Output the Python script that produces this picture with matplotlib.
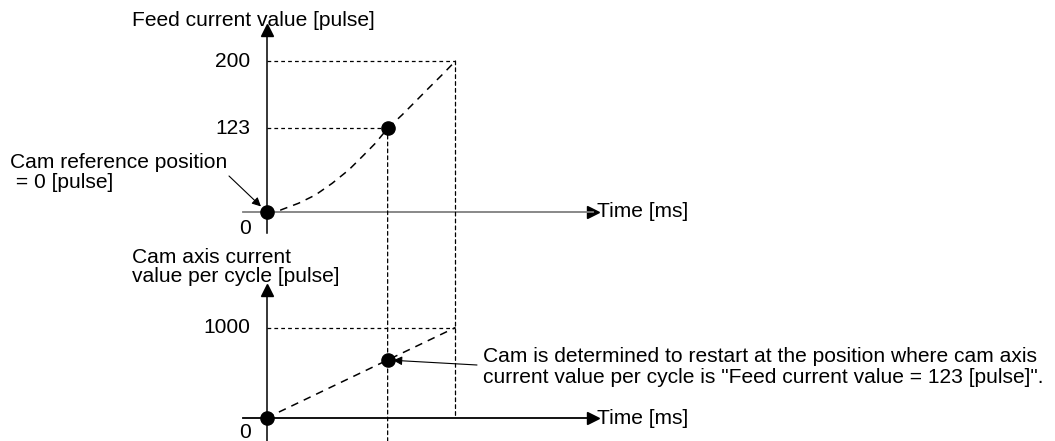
import numpy as np
import matplotlib
matplotlib.use("Agg")
import matplotlib.pyplot as plt
from matplotlib.patches import ConnectionPatch

plt.rcParams['font.family'] = ['Liberation Sans', 'DejaVu Sans']

# ---------------- data ----------------
# Feed current value curve (time as fraction of the cam cycle, value in pulses)
feed_time = [0.0, 0.074, 0.17, 0.259, 0.347, 0.435, 0.506, 0.576, 0.641,
             0.717, 0.787, 0.857, 0.928, 1.0]
feed_value = [0, 2.4, 12.5, 24.7, 41.8, 61.6, 81.2, 101, 123,
              138.3, 153.5, 168.8, 184, 200]
feed_ticks = [0, 123, 200]
restart_time = 0.641
restart_feed = 123
feed_max = 200

cam_time = [0.0, 1.0]
cam_value = [0, 1000]
cam_restart = 641
cam_max = 1000

# picture height fraction of each labelled feed level (diagram not to scale)
feed_levels = [0, 123, 200]
feed_level_h = [0.0, 0.553, 1.0]

W, H = 1055, 441
fig = plt.figure(figsize=(W / 100, H / 100), dpi=100)


def px_axes(x0, x1, ytop, ybot):
    return fig.add_axes([x0 / W, 1 - ybot / H, (x1 - x0) / W, (ybot - ytop) / H])


def fwd(v):
    v = np.asarray(v, dtype=float)
    lv, lh = np.array(feed_levels, float), np.array(feed_level_h, float)
    out = np.interp(v, lv, lh)
    out = np.where(v < lv[0], lh[0] + (v - lv[0]) * (lh[1] - lh[0]) / (lv[1] - lv[0]), out)
    out = np.where(v > lv[-1], lh[-1] + (v - lv[-1]) * (lh[-1] - lh[-2]) / (lv[-1] - lv[-2]), out)
    return out


def inv(h):
    h = np.asarray(h, dtype=float)
    lv, lh = np.array(feed_levels, float), np.array(feed_level_h, float)
    out = np.interp(h, lh, lv)
    out = np.where(h < lh[0], lv[0] + (h - lh[0]) * (lv[1] - lv[0]) / (lh[1] - lh[0]), out)
    out = np.where(h > lh[-1], lv[-1] + (h - lh[-1]) * (lv[-1] - lv[-2]) / (lh[-1] - lh[-2]), out)
    return out


def figpx(x, y):
    return (x / W, 1 - y / H)


FS = 15.1
GRAY = '#7f7f7f'

# ---------------- top axes ----------------
x0p, x1p = 243, 593
t0p, t1p = 266.5, 455.5
sx = t1p - t0p
ax1 = px_axes(x0p, x1p, 30, 233)
ax1.set_xlim(-(t0p - x0p) / sx, (x1p - t0p) / sx)
ax1.set_yscale('function', functions=(fwd, inv))
y0p, y200p = 211.7, 61.0
sh = y0p - y200p
ax1.set_ylim(float(inv(-(233 - y0p) / sh)), float(inv((y0p - 30) / sh)))

# ---------------- bottom axes ----------------
ax2 = px_axes(x0p, x1p, 290, 441)
ax2.set_xlim(-(t0p - x0p) / sx, (x1p - t0p) / sx)
b0p, b1000p = 418.0, 327.5
sb = (b0p - b1000p) / cam_max
ax2.set_ylim(-(441 - b0p) / sb, (b0p - 290) / sb)

for ax, hcol in ((ax1, GRAY), (ax2, 'black')):
    ax.patch.set_alpha(0)
    for s in ('top', 'right'):
        ax.spines[s].set_visible(False)
    ax.spines['left'].set_position(('data', 0))
    ax.spines['bottom'].set_position(('data', 0))
    ax.spines['left'].set_linewidth(1.1)
    ax.spines['bottom'].set_linewidth(1.3)
    ax.spines['bottom'].set_color(hcol)
    ax.set_xticks([])
    ax.set_yticks([])
    ax.plot(1, 0, marker='>', color='black', markersize=8,
            transform=ax.get_yaxis_transform(), clip_on=False)
    ax.plot(0, 1, marker='^', color='black', markersize=8,
            transform=ax.get_xaxis_transform(), clip_on=False)

# top content
ax1.plot(feed_time, feed_value, color='black', lw=1.1, dashes=(5, 4))
ax1.plot([0, 1], [feed_max, feed_max], color='black', lw=0.9, dashes=(3, 2.5))
ax1.plot([0, restart_time], [restart_feed, restart_feed], color='black', lw=0.9, dashes=(3, 2.5))
ax1.plot([0, restart_time], [0, restart_feed], 'o', color='black', markersize=9.5, zorder=5)
for v in feed_ticks[1:]:
    ax1.text(-0.085, v, str(v), ha='right', va='center', fontsize=FS)

# bottom content
ax2.plot(cam_time, cam_value, color='black', lw=1.1, dashes=(5, 4))
ax2.plot([0, 1], [cam_max, cam_max], color='black', lw=0.9, dashes=(3, 2.5))
ax2.plot([0, restart_time], [0, cam_restart], 'o', color='black', markersize=9.5, zorder=5)
ax2.text(-0.085, cam_max, str(cam_max), ha='right', va='center', fontsize=FS)

# free texts (figure pixel positions)
def ftext(x, y, s, **kw):
    kw.setdefault('fontsize', FS)
    kw.setdefault('ha', 'left')
    kw.setdefault('va', 'baseline')
    fig.text(*figpx(x, y), s, **kw)

ftext(132, 26, 'Feed current value [pulse]')
ftext(10, 168.5, 'Cam reference position')
ftext(10, 188, ' = 0 [pulse]')
ftext(251, 228.5, '0', ha='right', va='center')
ftext(597, 212, 'Time [ms]', va='center')
ftext(132, 263.3, 'Cam axis current')
ftext(132, 281.7, 'value per cycle [pulse]')
ftext(251, 432.5, '0', ha='right', va='center')
ftext(597, 418, 'Time [ms]', va='center')
ftext(483, 361.5, 'Cam is determined to restart at the position where cam axis')
ftext(483, 383, 'current value per cycle is "Feed current value = 123 [pulse]".')

# leader arrows
ax1.annotate('', xy=(0, 0), xytext=figpx(229, 176), textcoords='figure fraction',
             arrowprops=dict(arrowstyle='-|>', color='black', lw=0.8,
                             mutation_scale=13, shrinkA=0, shrinkB=5.5))
ax2.annotate('', xy=(restart_time, cam_restart), xytext=figpx(477, 365),
             textcoords='figure fraction',
             arrowprops=dict(arrowstyle='-|>', color='black', lw=0.8,
                             mutation_scale=13, shrinkA=0, shrinkB=4))

# vertical guide lines spanning both charts
for (xa, ya, yb) in ((1.0, feed_max, 0), (restart_time, restart_feed, ax2.get_ylim()[0])):
    con = ConnectionPatch(xyA=(xa, ya), coordsA=ax1.transData,
                          xyB=(xa, yb), coordsB=ax2.transData,
                          color='black', lw=0.9, linestyle=(0, (3, 2.5)))
    fig.add_artist(con)

fig.savefig('out.png', dpi=100)
